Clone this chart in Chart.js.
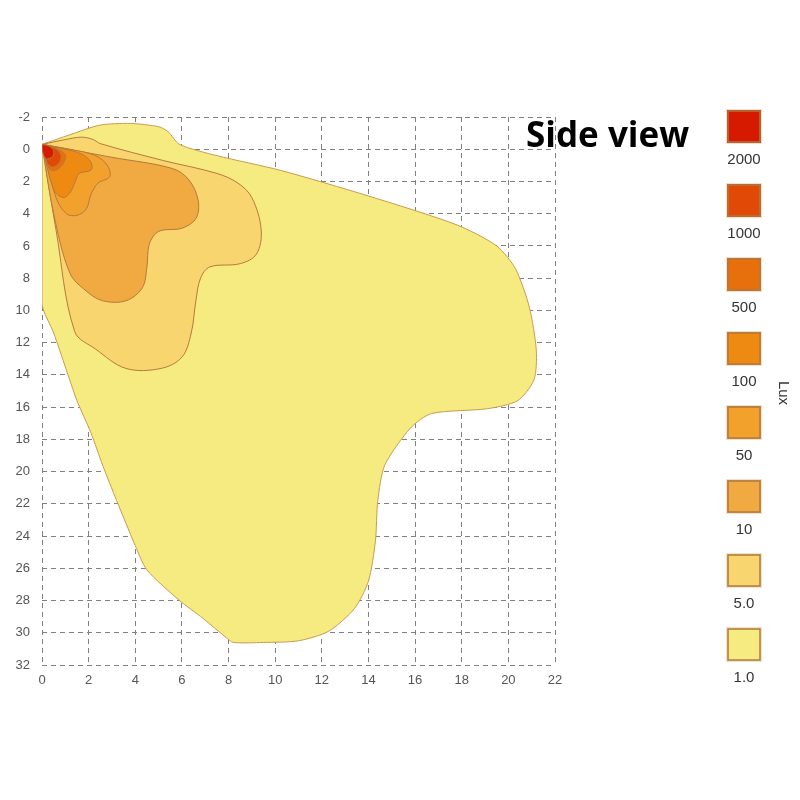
<!DOCTYPE html>
<html>
<head>
<meta charset="utf-8">
<script src="https://cdn.jsdelivr.net/npm/chart.js@4.4.1/dist/chart.umd.min.js"></script>
<style>
  html, body { margin: 0; padding: 0; background: #fff; }
  #wrap { width: 800px; height: 800px; position: relative; }
</style>
</head>
<body>
<div id="wrap"><canvas id="chart" width="800" height="800"></canvas></div>
<script>
// Side view isolux contours (distance in m, lux levels)

const xTickValues = [0, 2, 4, 6, 8, 10, 12, 14, 16, 18, 20, 22];
const yTickValues = [-2, 0, 2, 4, 6, 8, 10, 12, 14, 16, 18, 20, 22, 24, 26, 28, 30, 32];

const legendLabels = ['2000', '1000', '500', '100', '50', '10', '5.0', '1.0'];
const legendColors = ['#d61a00', '#e04a06', '#e8700c', '#ee8a12', '#f2a22c', '#f0aa41', '#f8d56e', '#f5eb80'];

// contour outlines, [x, y] pairs
const lux1 = [[0, -0.3], [1.2, -0.9], [2.5, -1.5], [3.8, -1.6], [5.0, -1.4], [5.4, -1.1], [5.9, -0.3],
  [7.5, 0.4], [10.2, 1.3], [14.0, 2.9], [17.8, 4.7], [19.5, 6.0], [20.3, 7.4], [20.9, 9.8], [21.2, 12.5],
  [21.1, 14.3], [20.4, 15.6], [19.1, 16.1], [16.7, 16.4], [15.8, 17.3], [14.7, 19.6], [14.4, 21.8],
  [14.3, 24.3], [14.0, 26.8], [13.4, 28.5], [12.3, 29.9], [11.0, 30.5], [9.5, 30.6], [8.2, 30.6],
  [7.9, 30.3], [6.9, 29.1], [5.9, 28.0], [4.5, 26.1], [4.0, 24.6], [3.6, 23.2], [3.2, 21.8], [2.6, 19.6],
  [2.1, 17.6], [1.5, 15.6], [1.0, 13.5], [0.5, 11.4], [0, 9.6], [0, 4], [0, -0.3]];
const lux5 = [[0, -0.3], [1.0, -0.6], [1.7, -0.75], [2.2, -0.6], [2.5, -0.35], [5.2, 0.7], [7.5, 1.5],
  [8.4, 2.1], [9.0, 3.0], [9.4, 5.0], [9.2, 6.5], [8.5, 7.1], [7.2, 7.3], [6.8, 8.0], [6.6, 9.4],
  [6.4, 11.4], [6.0, 12.9], [5.1, 13.6], [3.6, 13.6], [2.3, 12.4], [1.4, 11.3], [0.6, 5.0], [0, -0.3]];
const lux10 = [[0, -0.3], [3.0, 0.5], [5.6, 1.2], [6.3, 1.9], [6.7, 3.2], [6.6, 4.3], [6.0, 4.9],
  [5.0, 5.1], [4.6, 5.9], [4.5, 7.3], [4.3, 8.6], [3.6, 9.4], [2.6, 9.4], [1.9, 8.8], [1.2, 7.7],
  [0.5, 4.0], [0, -0.3]];
const lux50 = [[0, -0.3], [1.2, 0.0], [2.3, 0.4], [2.8, 1.0], [2.9, 1.7], [2.4, 2.1], [2.1, 2.8],
  [1.9, 3.7], [1.5, 4.1], [1.05, 4.0], [0.6, 3.0], [0, -0.3]];
const lux100 = [[0, -0.3], [1.0, 0.0], [1.7, 0.3], [2.1, 0.8], [2.1, 1.3], [1.6, 1.5], [1.4, 2.1],
  [1.2, 2.7], [0.9, 3.0], [0.5, 2.5], [0, -0.3]];
const lux500 = [[0, -0.3], [0.6, -0.05], [1.0, 0.35], [0.9, 0.9], [0.6, 1.3], [0.3, 1.2], [0, -0.3]];
const lux1000 = [[0, -0.3], [0.5, -0.1], [0.8, 0.3], [0.75, 0.8], [0.45, 1.1], [0.2, 0.8], [0, -0.3]];
const lux2000 = [[0, -0.3], [0.3, -0.2], [0.5, 0.1], [0.45, 0.45], [0.2, 0.6], [0.05, 0.3], [0, -0.3]];

const contours = [lux2000, lux1000, lux500, lux100, lux50, lux10, lux5, lux1];

const datasets = contours.map((pts, i) => ({
  label: legendLabels[i],
  data: pts.map(p => ({ x: p[0], y: p[1] })),
  showLine: true,
  fill: 'shape',
  backgroundColor: legendColors[i],
  borderColor: i === 7 ? '#c99a4e' : '#b57a3c',
  borderWidth: 1,
  pointRadius: 0,
  tension: i === 7 ? 0.25 : 0.35,
  order: i + 1
}));

const decorPlugin = {
  id: 'decor',
  afterDraw(chart) {
    const ctx = chart.ctx;
    ctx.save();

    // title
    ctx.fillStyle = '#000';
    ctx.font = 'bold 35px "Open Sans"';
    ctx.textAlign = 'left';
    ctx.textBaseline = 'alphabetic';
    ctx.fillText('Side view', 526, 147);

    // legend boxes
    legendLabels.forEach((label, i) => {
      const top = 110 + 74 * i;
      ctx.fillStyle = '#f0e0d0';
      ctx.fillRect(726, top - 1, 36, 35);
      ctx.fillStyle = legendColors[i];
      ctx.fillRect(727, top, 34, 33);
      ctx.strokeStyle = '#b07840';
      ctx.lineWidth = 1.5;
      ctx.strokeRect(728, top + 1, 32, 31);

      ctx.fillStyle = '#333';
      ctx.font = '15px "Liberation Sans"';
      ctx.textAlign = 'center';
      ctx.textBaseline = 'middle';
      ctx.fillText(label, 744, top + 50);
    });

    // unit
    ctx.translate(783, 393);
    ctx.rotate(Math.PI / 2);
    ctx.fillStyle = '#333';
    ctx.font = '15px "Liberation Sans"';
    ctx.textAlign = 'center';
    ctx.textBaseline = 'middle';
    ctx.fillText('Lux', 0, 0);

    ctx.restore();
  }
};

new Chart(document.getElementById('chart'), {
  type: 'scatter',
  data: { datasets },
  plugins: [decorPlugin],
  options: {
    responsive: false,
    animation: false,
    layout: {
      padding: { top: 117, right: 245, left: 0, bottom: 0 }
    },
    plugins: {
      legend: { display: false },
      tooltip: { enabled: false }
    },
    scales: {
      x: {
        type: 'linear',
        min: 0,
        max: 22,
        afterBuildTicks: (scale) => { scale.ticks = xTickValues.map(v => ({ value: v })); },
        afterFit: (scale) => { scale.height = 135; },
        ticks: {
          color: '#555',
          padding: 8,
          font: { family: 'Liberation Sans', size: 13 }
        },
        grid: {
          color: '#808080',
          lineWidth: 1,
          drawTicks: false
        },
        border: { display: false, dash: [5, 4] }
      },
      y: {
        type: 'linear',
        reverse: true,
        min: -2,
        max: 32,
        afterBuildTicks: (scale) => { scale.ticks = yTickValues.map(v => ({ value: v })); },
        afterFit: (scale) => { scale.width = 42; },
        ticks: {
          color: '#555',
          padding: 12,
          font: { family: 'Liberation Sans', size: 13 }
        },
        grid: {
          color: '#808080',
          lineWidth: 1,
          drawTicks: false
        },
        border: { display: false, dash: [5, 4] }
      }
    }
  }
});
</script>
</body>
</html>
